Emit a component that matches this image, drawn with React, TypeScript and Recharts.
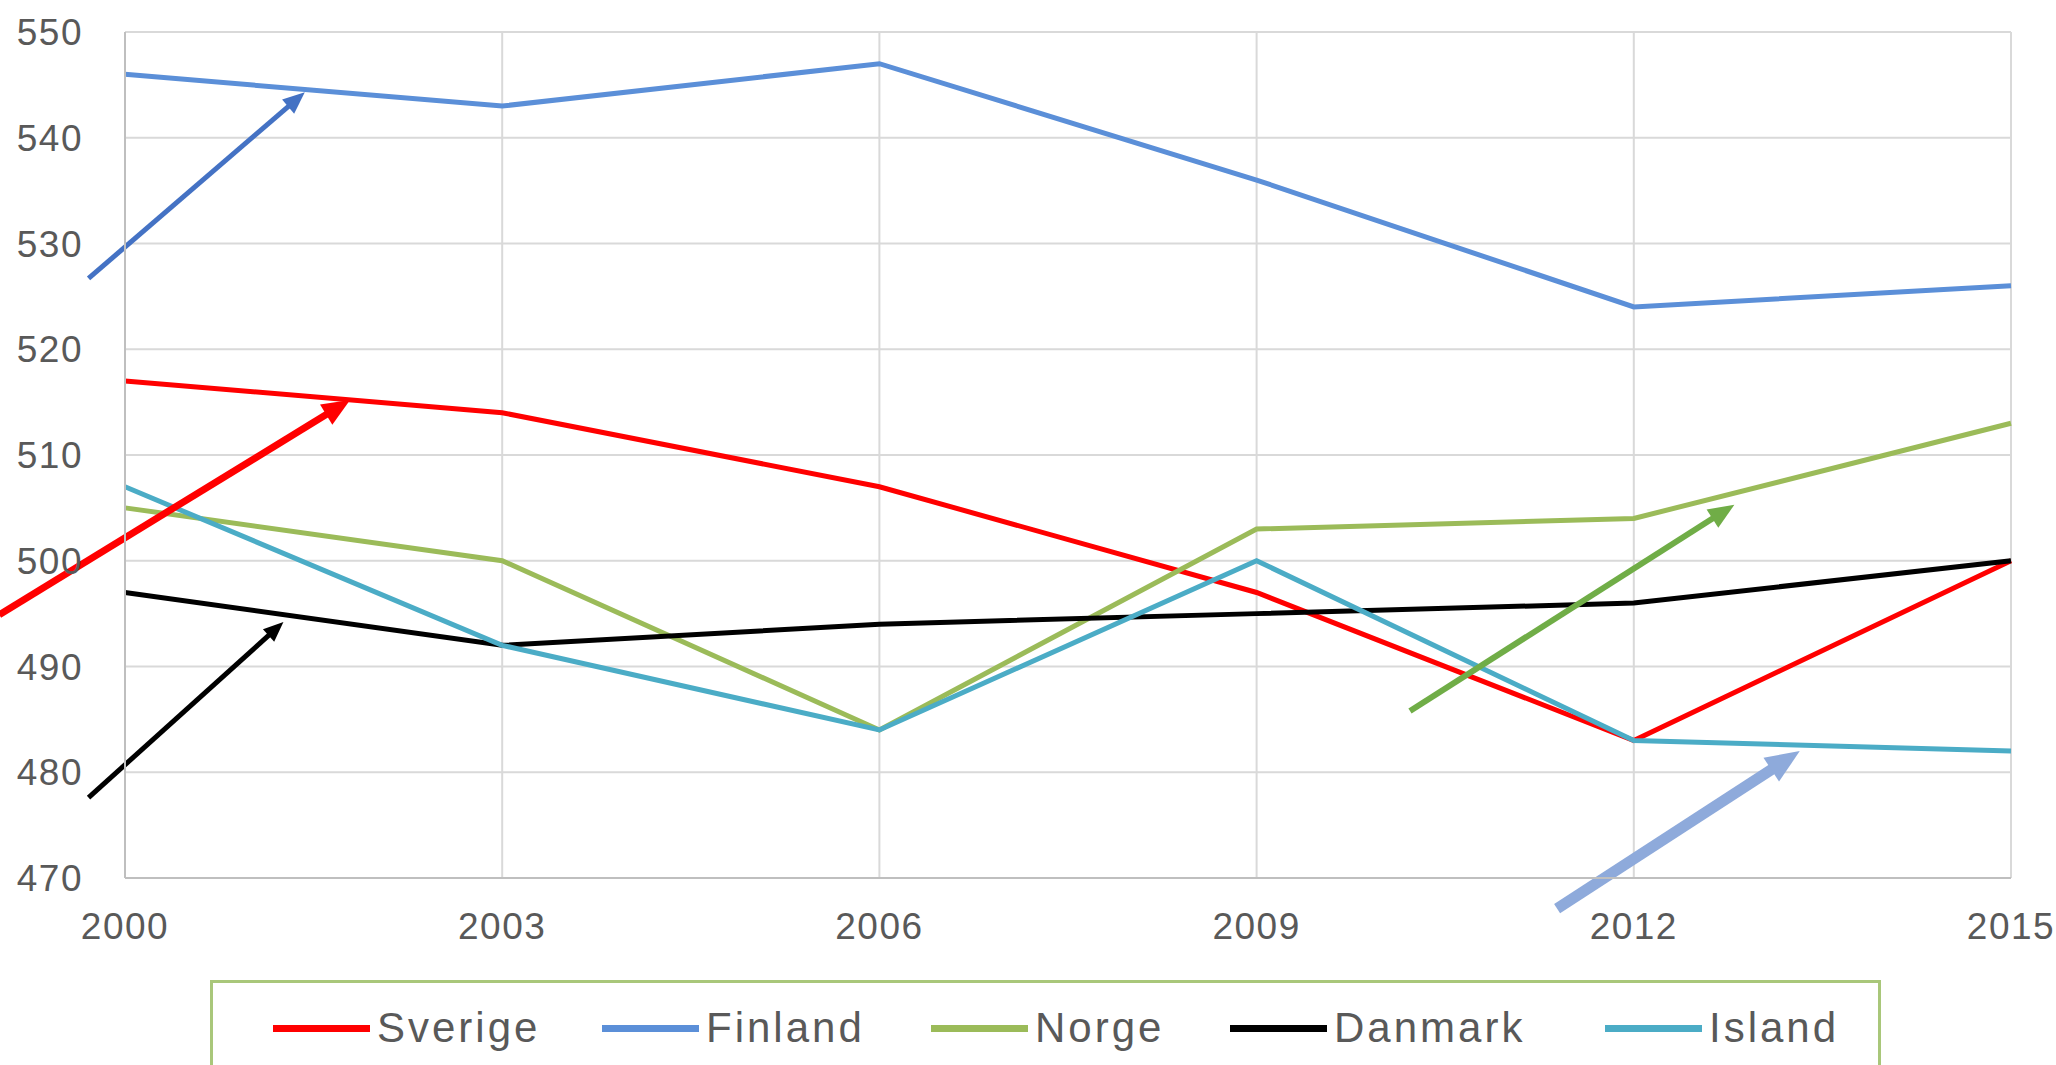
import React from 'react';
import { LineChart, Line, XAxis, YAxis, CartesianGrid, ReferenceLine, Legend } from 'recharts';

const years = [2000, 2003, 2006, 2009, 2012, 2015];
const sverige = [517, 514, 507, 497, 483, 500];
const finland = [546, 543, 547, 536, 524, 526];
const norge = [505, 500, 484, 503, 504, 513];
const danmark = [497, 492, 494, 495, 496, 500];
const island = [507, 492, 484, 500, 483, 482];
const yTicks = [470, 480, 490, 500, 510, 520, 530, 540, 550];

const seriesDefs = [
  { key: 'Sverige', values: sverige, color: '#ff0000' },
  { key: 'Finland', values: finland, color: '#5b8fd8' },
  { key: 'Norge', values: norge, color: '#9bbb59' },
  { key: 'Danmark', values: danmark, color: '#000000' },
  { key: 'Island', values: island, color: '#4bacc6' },
];

// annotation arrows in data coordinates: tail -> tip
const arrows = [
  { from: [1999.71, 526.7], to: [2001.43, 544.3], color: '#4472c4', width: 5, head: 22 },
  { from: [1999.0, 494.9], to: [2001.79, 515.2], color: '#ff0000', width: 7, head: 28 },
  { from: [1999.71, 477.6], to: [2001.26, 494.2], color: '#000000', width: 5, head: 20 },
  { from: [2010.22, 485.8], to: [2012.8, 505.3], color: '#70ad47', width: 6, head: 26 },
  { from: [2011.39, 467.1], to: [2013.32, 482.0], color: '#8eaadb', width: 11, head: 34 },
];

const legendSlots = [329, 329, 299, 375, 280];

const data = years.map((y, i) => {
  const row: any = { year: y };
  seriesDefs.forEach((s) => (row[s.key] = s.values[i]));
  return row;
});

const makeArrow = (color: string, width: number, head: number) => (props: any) => {
  const { x1, y1, x2, y2 } = props;
  if ([x1, y1, x2, y2].some((v) => typeof v !== 'number' || isNaN(v))) return <g />;
  const ang = Math.atan2(y2 - y1, x2 - x1);
  const bx = x2 - head * Math.cos(ang);
  const by = y2 - head * Math.sin(ang);
  const hw = head * 0.42;
  const px = -Math.sin(ang);
  const py = Math.cos(ang);
  const pts = `${x2},${y2} ${bx + px * hw},${by + py * hw} ${bx - px * hw},${by - py * hw}`;
  return (
    <g>
      <line x1={x1} y1={y1} x2={bx + Math.cos(ang) * 2} y2={by + Math.sin(ang) * 2} stroke={color} strokeWidth={width} />
      <polygon points={pts} fill={color} />
    </g>
  );
};

const renderLegend = () => (
  <div
    style={{
      boxSizing: 'border-box',
      width: 1671,
      height: 110,
      border: '3px solid #a9c77a',
      display: 'flex',
      alignItems: 'flex-start',
      paddingLeft: 60,
      paddingTop: 21,
      fontFamily: '"Liberation Sans", Arial, sans-serif',
      fontSize: 42,
      color: '#595959',
      letterSpacing: 3,
    }}
  >
    {seriesDefs.map((s, i) => (
      <div key={s.key} style={{ display: 'flex', alignItems: 'center', width: legendSlots[i], flex: 'none' }}>
        <div style={{ width: 97, height: 7, background: s.color, marginRight: 7, flex: 'none' }} />
        <span>{s.key}</span>
      </div>
    ))}
  </div>
);

const tickFont = '"Liberation Sans", Arial, sans-serif';

export default function App() {
  return (
    <div style={{ position: 'fixed', left: 0, top: 0, width: 2056, height: 1065, overflow: 'hidden', background: '#fff' }}>
      <LineChart width={2056} height={1065} data={data} margin={{ top: 32, right: 45, bottom: 157, left: 0 }}>
        <CartesianGrid stroke="#d9d9d9" strokeWidth={2} />
        <XAxis
          dataKey="year"
          type="number"
          domain={[2000, 2015]}
          ticks={years}
          height={30}
          tickSize={0}
          tickMargin={35}
          axisLine={{ stroke: '#bfbfbf', strokeWidth: 2 }}
          tick={{ fill: '#595959', fontSize: 37, fontFamily: tickFont, letterSpacing: 1.5 }}
          interval={0}
        />
        <YAxis
          domain={[470, 550]}
          ticks={yTicks}
          width={125}
          tickSize={0}
          tickMargin={42}
          axisLine={{ stroke: '#bfbfbf', strokeWidth: 2 }}
          tick={{ fill: '#595959', fontSize: 37, fontFamily: tickFont, letterSpacing: 1.5 }}
          interval={0}
        />
        {seriesDefs.map((s) => (
          <Line
            key={s.key}
            dataKey={s.key}
            stroke={s.color}
            strokeWidth={5}
            dot={false}
            activeDot={false}
            isAnimationActive={false}
            type="linear"
          />
        ))}
        {arrows.map((a, i) => (
          <ReferenceLine
            key={i}
            segment={[{ x: a.from[0], y: a.from[1] }, { x: a.to[0], y: a.to[1] }]}
            ifOverflow="visible"
            stroke={a.color}
            strokeWidth={a.width}
            shape={makeArrow(a.color, a.width, a.head)}
          />
        ))}
        <Legend
          layout="horizontal"
          verticalAlign="middle"
          align="center"
          content={renderLegend}
          wrapperStyle={{ position: 'absolute', left: 210, top: 980, width: 1671, height: 110 }}
        />
      </LineChart>
    </div>
  );
}
